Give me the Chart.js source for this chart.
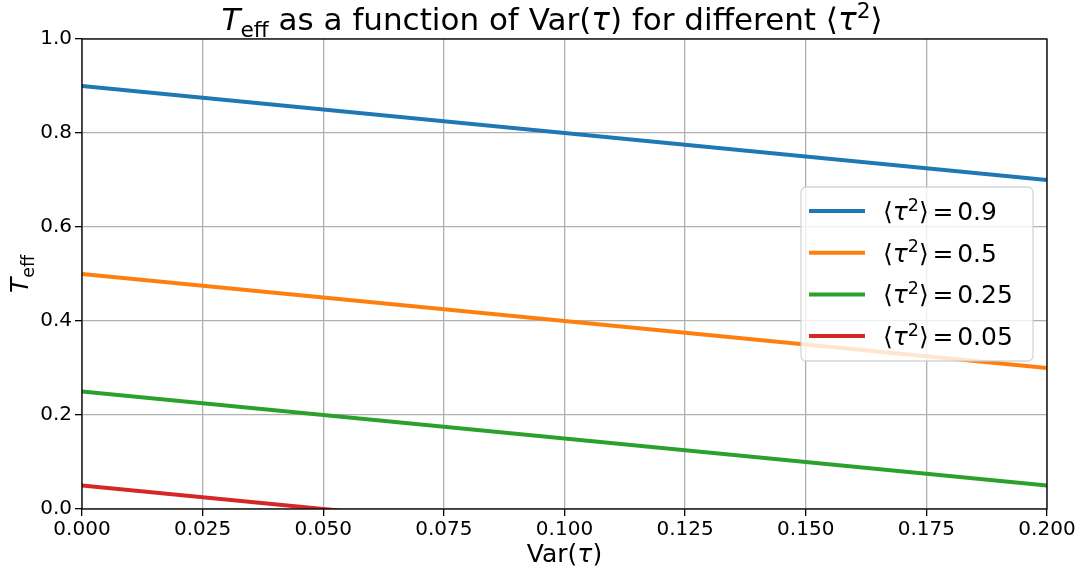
<!DOCTYPE html>
<html>
<head>
<meta charset="utf-8">
<script src="https://cdn.jsdelivr.net/npm/chart.js@4"></script>
<style>
  html, body { margin: 0; padding: 0; background: #fff; }
  #wrap { width: 1083px; height: 574px; }
</style>
</head>
<body>
<div id="wrap"><canvas id="c" width="1083" height="574"></canvas></div>
<script>
// values
var varTau = [0, 0.2];
var tau2Labels = ["0.9", "0.5", "0.25", "0.05"];
var teffBlue = [0.9, 0.7];
var teffOrange = [0.5, 0.3];
var teffGreen = [0.25, 0.05];
var teffRed = [0.05, -0.15];
var colors = ["#1f77b4", "#ff7f0e", "#2ca02c", "#d62728"];
var xTicks = [0, 0.025, 0.05, 0.075, 0.1, 0.125, 0.15, 0.175, 0.2];
var yTicks = [0, 0.2, 0.4, 0.6, 0.8, 1.0];

var FONT = "'DejaVu Sans', sans-serif";

function pts(ys) {
  return varTau.map(function(x, i) { return { x: x, y: ys[i] }; });
}

// text built from pieces: normal, italic (it), subscript (sub), superscript (sup), gap (em)
function segFont(s, size) {
  var sz = (s.sub || s.sup) ? size * 0.7 : size;
  return (s.it ? "italic " : "") + sz + "px " + FONT;
}
function segWidth(ctx, s, size) {
  if (s.gap) return s.gap * size;
  ctx.font = segFont(s, size);
  return ctx.measureText(s.t).width;
}
function drawRich(ctx, segs, x, y, size, align) {
  var w = 0;
  segs.forEach(function(s) { w += segWidth(ctx, s, size); });
  var cx = align === "center" ? x - w / 2 : x;
  ctx.textAlign = "left";
  ctx.textBaseline = "alphabetic";
  segs.forEach(function(s) {
    if (!s.gap) {
      ctx.font = segFont(s, size);
      var dy = s.sub ? size * 0.22 : (s.sup ? -size * 0.38 : 0);
      ctx.fillText(s.t, cx, y + dy);
    }
    cx += segWidth(ctx, s, size);
  });
}

var decor = {
  id: "decor",
  afterDatasetsDraw: function(chart) {
    var ctx = chart.ctx, a = chart.chartArea;
    ctx.save();
    // spines
    ctx.strokeStyle = "#000";
    ctx.lineWidth = 1.3;
    ctx.strokeRect(a.left, a.top, a.right - a.left, a.bottom - a.top);

    ctx.fillStyle = "#000";
    // title
    drawRich(ctx, [
      { t: "T", it: true }, { t: "eff", sub: true },
      { t: " as a function of Var(" }, { t: "τ", it: true },
      { t: ") for different ⟨" }, { t: "τ", it: true }, { t: "2", sup: true }, { t: "⟩" }
    ], 552, 30, 31, "center");
    // x label
    drawRich(ctx, [{ t: "Var(" }, { t: "τ", it: true }, { t: ")" }],
      (a.left + a.right) / 2, 562, 25, "center");
    // y label
    ctx.save();
    ctx.translate(28, (a.top + a.bottom) / 2);
    ctx.rotate(-Math.PI / 2);
    drawRich(ctx, [{ t: "T", it: true }, { t: "eff", sub: true }], 0, 0, 25, "center");
    ctx.restore();

    // legend
    var lx = 801, ly = 187, lw = 232, lh = 174;
    ctx.beginPath();
    ctx.roundRect(lx, ly, lw, lh, 5);
    ctx.fillStyle = "rgba(255,255,255,0.8)";
    ctx.fill();
    ctx.strokeStyle = "rgba(204,204,204,0.8)";
    ctx.lineWidth = 1.3;
    ctx.stroke();
    chart.data.datasets.forEach(function(ds, i) {
      var yy = 211 + i * 41.7;
      ctx.strokeStyle = ds.borderColor;
      ctx.lineWidth = 4;
      ctx.beginPath();
      ctx.moveTo(809, yy);
      ctx.lineTo(865, yy);
      ctx.stroke();
      ctx.fillStyle = "#000";
      drawRich(ctx, [
        { t: "⟨" }, { t: "τ", it: true }, { t: "2", sup: true }, { t: "⟩" },
        { gap: 0.15 }, { t: "=" }, { gap: 0.15 }, { t: ds.label }
      ], 883, yy + 9, 25, "left");
    });
    ctx.restore();
  }
};

new Chart(document.getElementById("c"), {
  type: "line",
  data: {
    datasets: [
      { label: tau2Labels[0], data: pts(teffBlue), borderColor: colors[0] },
      { label: tau2Labels[1], data: pts(teffOrange), borderColor: colors[1] },
      { label: tau2Labels[2], data: pts(teffGreen), borderColor: colors[2] },
      { label: tau2Labels[3], data: pts(teffRed), borderColor: colors[3] }
    ].map(function(d) {
      d.borderWidth = 4;
      d.pointRadius = 0;
      d.fill = false;
      d.clip = 0;
      d.tension = 0;
      return d;
    })
  },
  options: {
    responsive: false,
    animation: false,
    layout: { padding: { top: 39, right: 36, left: 0, bottom: 0 } },
    plugins: { legend: { display: false }, title: { display: false }, tooltip: { enabled: false } },
    scales: {
      x: {
        type: "linear",
        min: 0,
        max: 0.2,
        afterBuildTicks: function(s) { s.ticks = xTicks.map(function(v) { return { value: v }; }); },
        afterFit: function(s) { s.height = 65; },
        grid: { color: "#b0b0b0", lineWidth: 1.3, tickColor: "#000", tickLength: 7, tickWidth: 1.3 },
        border: { display: false },
        ticks: {
          color: "#000", font: { family: FONT, size: 20 }, padding: 2, maxRotation: 0,
          callback: function(v) { return v.toFixed(3); }
        }
      },
      y: {
        min: 0,
        max: 1,
        afterBuildTicks: function(s) { s.ticks = yTicks.map(function(v) { return { value: v }; }); },
        afterFit: function(s) { s.width = 82; },
        grid: { color: "#b0b0b0", lineWidth: 1.3, tickColor: "#000", tickLength: 7, tickWidth: 1.3 },
        border: { display: false },
        ticks: {
          color: "#000", font: { family: FONT, size: 20 }, padding: 3,
          callback: function(v) { return v.toFixed(1); }
        }
      }
    }
  },
  plugins: [decor]
});
</script>
</body>
</html>
